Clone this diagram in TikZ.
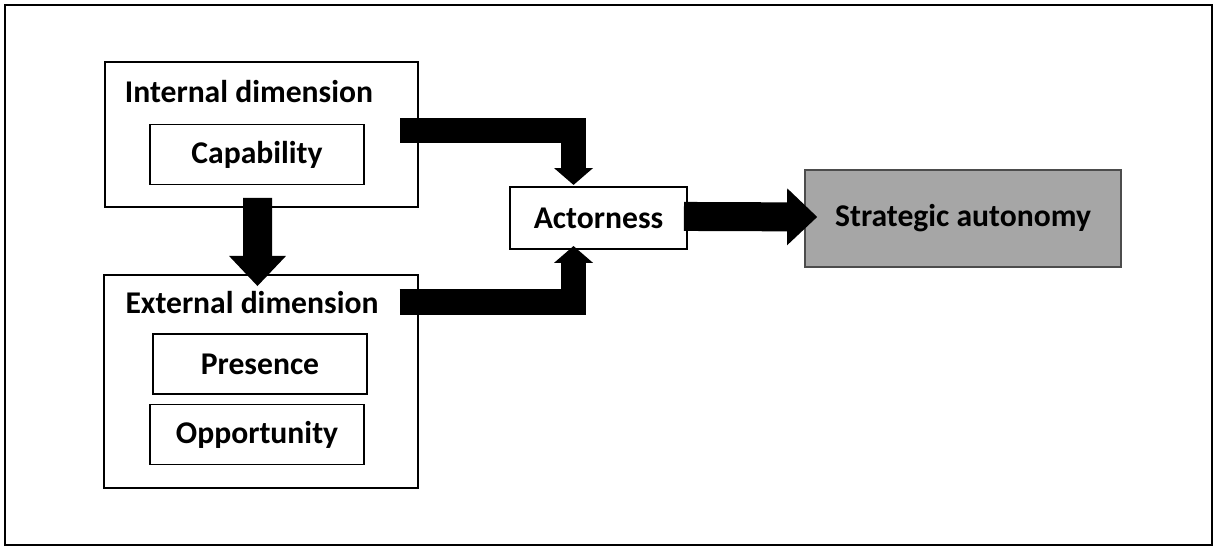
\documentclass[tikz,border=0pt]{standalone}
\usepackage{fontspec}
\setmainfont{Carlito}
\usetikzlibrary{positioning, arrows.meta, calc}

\begin{document}
\begin{tikzpicture}[
    font=\fontsize{12}{14}\selectfont\bfseries,
    frame/.style={draw, line width=0.8pt},
    dimbox/.style={draw, line width=0.7pt, minimum width=4.18cm, inner sep=0pt},
    itembox/.style={draw, line width=0.7pt, minimum width=2.85cm, minimum height=0.8cm, inner sep=0pt},
    mainbox/.style={draw, line width=0.7pt, minimum width=2.36cm, minimum height=0.83cm, inner sep=0pt},
    goalbox/.style={draw=black!70, fill=black!35, line width=0.7pt,
        minimum width=4.21cm, minimum height=1.29cm, inner sep=0pt},
    elbowarrow/.style={line width=9.5pt, -{Triangle[width=14.8pt, length=6.4pt, line width=0pt]}},
    blockarrow/.style={line width=11pt, -{Triangle[width=21.6pt, length=11.4pt, line width=0pt]}}
]
\useasboundingbox (0,0) rectangle (16.2,7.293);

% ===== 外框 =====
\draw[frame] (0.067,0.027) rectangle (16.16,7.227);

% ===== 两个维度 =====
\node[dimbox, minimum height=1.93cm] (int) at (3.487,5.5) {};
\node[anchor=base west, inner sep=0pt] (intlabel) at (1.658,5.924) {Internal dimension};

\node[dimbox, minimum height=2.84cm] (ext) at (3.48,2.207) {};
\node[anchor=base west, inner sep=0pt] (extlabel) at (1.667,3.107) {External dimension};

% ===== 内部小框 =====
\foreach \name/\pos/\label in {
    cap/{3.427,5.233}/Capability,
    pres/{3.467,2.44}/Presence,
    opp/{3.427,1.5}/Opportunity
}{
    \node[itembox] (\name) at (\pos) {\label};
}

% ===== 主节点 =====
\node[mainbox] (act) at (7.98,4.387) {Actorness};
\node[goalbox] (str) at (12.84,4.38) {Strategic autonomy};

% ===== 箭头 =====
\draw[blockarrow] ([xshift=-0.053cm, yshift=0.133cm]int.south)
    -- ([xshift=-0.047cm, yshift=-0.16cm]ext.north); % 内部 -> 外部
\draw[elbowarrow] ([xshift=-0.253cm, yshift=0.053cm]int.east)
    -| ([xshift=-0.333cm, yshift=0.013cm]act.north);
\draw[elbowarrow] ([xshift=-0.253cm, yshift=-0.373cm]ext.north east)
    -| ([xshift=-0.333cm, yshift=0.053cm]act.south);
\draw[blockarrow] ([xshift=-0.053cm, yshift=0.02cm]act.east)
    -- ([xshift=0.173cm, yshift=0.02cm]str.west);

\end{tikzpicture}
\end{document}
